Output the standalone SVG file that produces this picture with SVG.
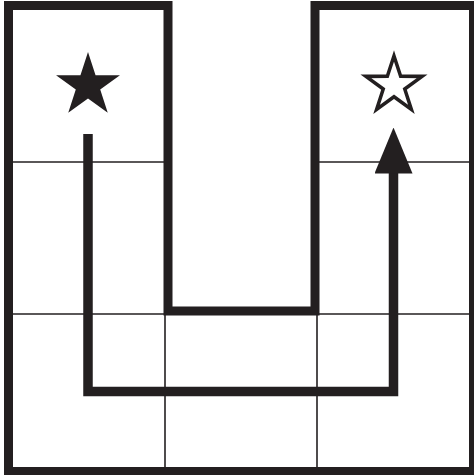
<svg xmlns="http://www.w3.org/2000/svg" width="474" height="475" viewBox="0 0 474 475">
  <style>
    .thin { stroke: #231f20; stroke-width: 1.6; fill: none; }
    .wall { stroke: #231f20; stroke-width: 9; fill: none; stroke-linejoin: miter; }
    .route { stroke: #231f20; stroke-width: 9.5; fill: none; stroke-linejoin: miter; stroke-linecap: butt; }
    .star-filled { fill: #231f20; }
    .star-open { fill: #ffffff; stroke: #231f20; stroke-width: 4; stroke-linejoin: miter; }
  </style>
  <defs>
    <path id="star" d="M0,-33.6 L7.55,-10.39 L31.96,-10.38 L12.21,3.97 L19.75,27.18 L0,12.84 L-19.75,27.18 L-12.21,3.97 L-31.96,-10.38 L-7.55,-10.39 Z"/>
    <marker id="arrow" markerUnits="userSpaceOnUse" viewBox="0 0 46 38" markerWidth="46" markerHeight="38" refX="1.5" refY="19" orient="auto">
      <path d="M0,0 L46,19 L0,38 Z" fill="#231f20"/>
    </marker>
  </defs>
  <rect width="474" height="475" fill="#ffffff"/>
  <g id="grid">
    <line class="thin" x1="13" y1="162" x2="165" y2="162"/>
    <line class="thin" x1="317" y1="162" x2="469" y2="162"/>
    <line class="thin" x1="13" y1="314" x2="469" y2="314"/>
    <line class="thin" x1="165" y1="314" x2="165" y2="467"/>
    <line class="thin" x1="317" y1="314" x2="317" y2="467"/>
  </g>
  <g id="outline">
    <polygon class="wall" points="168,5.5 8.5,5.5 8.5,471.5 473.5,471.5 473.5,5.5 315,5.5 315,311 168,311"/>
  </g>
  <g id="start">
    <use href="#star" class="star-filled" transform="translate(88,85.6)"/>
  </g>
  <g id="goal">
    <use href="#star" class="star-open" transform="translate(394,85.5) scale(0.88)" style="stroke-width:4"/>
  </g>
  <g id="connectors">
    <path class="route" d="M88,134 V391.5 H393.5 V172" marker-end="url(#arrow)"/>
  </g>
</svg>
